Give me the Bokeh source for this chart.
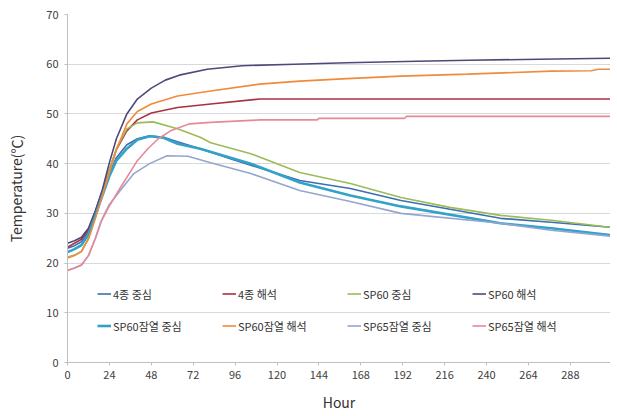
from bokeh.plotting import figure
from bokeh.models import FixedTicker, Legend, LegendItem, Range1d
from bokeh.embed import file_html
from bokeh.resources import INLINE

# ---- data ----
x_ticks = [0, 24, 48, 72, 96, 120, 144, 168, 192, 216, 240, 264, 288]
y_ticks = [0, 10, 20, 30, 40, 50, 60, 70]

names = ["4종 중심", "4종 해석", "SP60 중심", "SP60 해석",
         "SP60잠열 중심", "SP60잠열 해석", "SP65잠열 중심", "SP65잠열 해석"]

t_4c = [0, 4, 8, 12, 16, 20, 24, 28, 34, 40, 47, 55, 63, 76, 95, 133, 162, 191, 248, 277, 311]
v_4c = [23.0, 23.5, 24.3, 26.3, 30.0, 34.0, 38.0, 41.2, 43.8, 45.0, 45.6, 45.3, 44.4, 43.0, 40.8, 36.6, 35.0, 32.6, 29.0, 28.2, 27.2]

t_4h = [0, 4, 8, 12, 16, 20, 24, 28, 34, 40, 48, 63, 82, 110, 311]
v_4h = [23.2, 24.0, 24.8, 26.8, 30.5, 34.5, 38.8, 42.8, 46.6, 48.8, 50.2, 51.3, 52.0, 53.0, 53.0]

t_60c = [0, 4, 8, 12, 16, 20, 24, 28, 34, 40, 49, 63, 76, 82, 105, 133, 162, 191, 219, 248, 277, 311]
v_60c = [21.2, 21.6, 22.4, 25.0, 29.5, 34.0, 38.8, 43.0, 47.0, 48.2, 48.4, 47.0, 45.3, 44.2, 42.0, 38.2, 36.0, 33.2, 31.2, 29.6, 28.6, 27.2]

t_60h = [0, 4, 8, 12, 16, 20, 24, 28, 34, 40, 48, 56, 64, 80, 100, 130, 160, 200, 230, 270, 311]
v_60h = [24.0, 24.5, 25.2, 27.0, 30.5, 34.8, 40.2, 45.0, 50.0, 53.0, 55.2, 56.8, 57.8, 59.0, 59.7, 60.0, 60.3, 60.6, 60.8, 61.0, 61.2]

t_60lc = [0, 4, 8, 12, 16, 20, 24, 28, 34, 40, 47, 55, 63, 76, 105, 133, 162, 191, 248, 277, 311]
v_60lc = [22.2, 22.8, 23.6, 25.8, 29.6, 33.6, 37.5, 40.6, 43.0, 44.8, 45.5, 45.2, 44.0, 43.0, 40.0, 36.2, 33.6, 31.4, 28.0, 27.0, 25.6]

t_60lh = [0, 4, 8, 12, 16, 20, 24, 28, 34, 40, 48, 63, 82, 110, 133, 160, 191, 229, 277, 300, 304, 311]
v_60lh = [21.0, 21.5, 22.3, 24.8, 29.0, 33.6, 38.2, 42.8, 48.0, 50.5, 52.0, 53.6, 54.6, 56.0, 56.6, 57.1, 57.6, 58.0, 58.6, 58.7, 59.0, 59.0]

t_65lc = [0, 4, 8, 12, 16, 20, 24, 30, 38, 47, 57, 69, 82, 105, 133, 162, 191, 248, 277, 311]
v_65lc = [18.5, 19.0, 19.6, 21.5, 25.0, 29.0, 31.8, 34.5, 38.0, 40.0, 41.6, 41.5, 40.2, 38.0, 34.6, 32.4, 30.0, 28.0, 26.6, 25.4]

t_65lh = [0, 4, 8, 12, 16, 19, 24, 30, 40, 46, 52, 59, 70, 82, 110, 143, 144, 193, 194, 311]
v_65lh = [18.5, 19.0, 19.6, 21.5, 25.0, 28.2, 31.5, 35.0, 40.6, 43.0, 45.0, 46.6, 48.0, 48.3, 48.8, 48.8, 49.1, 49.1, 49.5, 49.5]

series = [
    (t_4c, v_4c, "#3B6FB0", 1.6),
    (t_4h, v_4h, "#A83240", 1.6),
    (t_60c, v_60c, "#9BBB59", 1.6),
    (t_60h, v_60h, "#55467A", 1.6),
    (t_60lc, v_60lc, "#33A2C9", 2.6),
    (t_60lh, v_60lh, "#F08A3C", 1.6),
    (t_65lc, v_65lc, "#93A6D0", 1.6),
    (t_65lh, v_65lh, "#E58A96", 1.6),
]

FONT = "Noto Sans CJK KR"

p = figure(width=610, height=414, output_backend="svg", toolbar_location=None,
           x_range=Range1d(0, 311), y_range=Range1d(0, 70),
           min_border_left=67, min_border_right=0, min_border_top=14, min_border_bottom=51)

p.background_fill_color = "white"
p.border_fill_color = "white"
p.outline_line_color = None

items = []
for (t, v, c, w), nm in zip(series, names):
    r = p.line(t, v, line_color=c, line_width=w)
    items.append(LegendItem(label=nm, renderers=[r]))

# axes
p.xaxis.ticker = FixedTicker(ticks=x_ticks)
p.yaxis.ticker = FixedTicker(ticks=y_ticks)
p.xgrid.grid_line_color = None
p.ygrid.grid_line_color = "#d9d9d9"
p.ygrid.grid_line_width = 1

for ax in (p.xaxis[0], p.yaxis[0]):
    ax.axis_line_color = "#bfbfbf"
    ax.major_tick_line_color = "#bfbfbf"
    ax.minor_tick_line_color = None
    ax.major_tick_in = 0
    ax.major_tick_out = 3
    ax.major_label_text_font = FONT
    ax.major_label_text_font_size = "11px"
    ax.major_label_text_color = "#404040"
    ax.axis_label_text_font = FONT
    ax.axis_label_text_font_size = "14px"
    ax.axis_label_text_font_style = "normal"
    ax.axis_label_text_color = "#333333"

p.xaxis.axis_label = "Hour"
p.yaxis.axis_label = "Temperature(℃)"
p.xaxis.major_label_standoff = 5
p.xaxis.axis_label_standoff = 10
p.yaxis.major_label_standoff = 6
p.yaxis.axis_label_standoff = 17

legend = Legend(items=items, location=(30, 24), orientation="horizontal", ncols=4,
                label_text_font=FONT, label_text_font_size="11px", label_text_color="#333333",
                glyph_width=14, glyph_height=25, label_standoff=2, label_width=102,
                spacing=7, padding=0, margin=0,
                background_fill_alpha=0, border_line_color=None)
p.add_layout(legend, "center")

open("out.html", "w").write(file_html(p, INLINE))
